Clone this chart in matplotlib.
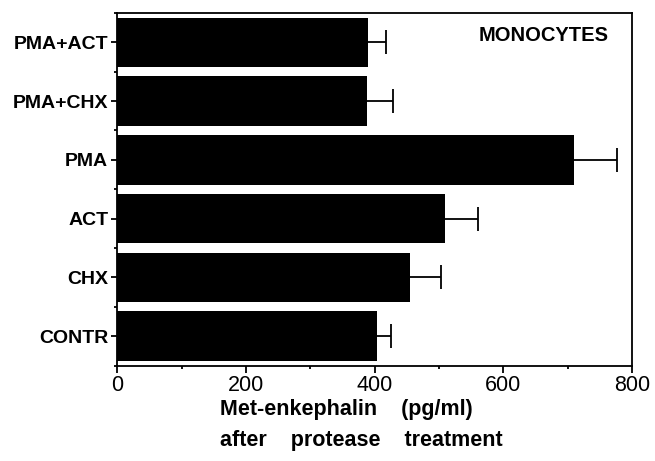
import numpy as np
import matplotlib
matplotlib.use("Agg")
import matplotlib.pyplot as plt

groups = ["CONTR", "CHX", "ACT", "PMA", "PMA+CHX", "PMA+ACT"]
values = [403, 455, 509, 710, 388, 390]
errors = [23, 48, 51, 66, 40, 28]

plt.rcParams['font.family'] = ['Liberation Sans', 'DejaVu Sans']

fig = plt.figure(figsize=(6.55, 4.61), dpi=100)
ax = fig.add_axes([0.179, 0.207, 0.786, 0.765])

y = np.arange(len(groups))
# symmetric error bars drawn under the bars so only the upper half shows
ax.errorbar(values, y, xerr=errors, fmt='none',
            ecolor='black', elinewidth=1.3, capsize=8.5, capthick=1.3, zorder=1)
ax.barh(y, values, height=0.84, color='black', zorder=2)

ax.set_xlim(0, 800)
ax.set_ylim(-0.5, 5.5)
ax.set_yticks(y)
ax.set_yticklabels(groups, fontsize=14, fontweight='bold')
ax.set_yticks(np.arange(-0.5, 6.0, 1.0), minor=True)
ax.set_xticks([0, 200, 400, 600, 800])
ax.set_xticklabels(['0', '200', '400', '600', '800'], fontsize=15.5)
ax.set_xticks([100, 300, 500, 700], minor=True)
ax.tick_params(axis='y', which='major', length=4, width=1.3, pad=2.5)
ax.tick_params(axis='x', which='major', length=5, width=1.3, pad=2)
ax.tick_params(axis='both', which='minor', length=2.5, width=1.3)
for s in ax.spines.values():
    s.set_linewidth(1.3)

ax.set_xlabel('Met-enkephalin    (pg/ml)\nafter    protease    treatment',
              fontsize=15.5, fontweight='bold', linespacing=1.6,
              ha='left', va='top', multialignment='left')
ax.xaxis.set_label_coords(0.2, -0.095, transform=ax.transAxes)
ax.text(0.955, 0.935, 'MONOCYTES', transform=ax.transAxes, ha='right', va='center',
        fontsize=14.5, fontweight='bold')

plt.savefig('out.png', dpi=100)
